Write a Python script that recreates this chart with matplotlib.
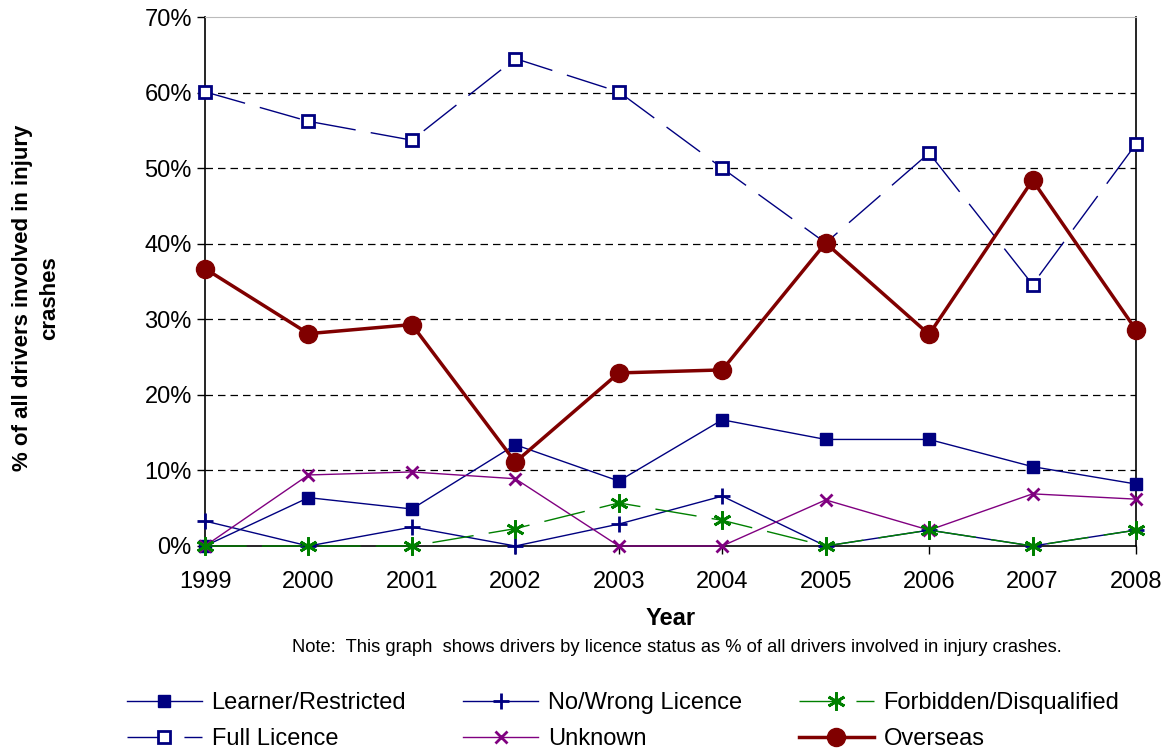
import matplotlib
matplotlib.use("Agg")
import matplotlib.pyplot as plt
from matplotlib.ticker import FuncFormatter

plt.rcParams['font.family'] = ['Liberation Sans', 'DejaVu Sans']

# data (percent)
years = [1999, 2000, 2001, 2002, 2003, 2004, 2005, 2006, 2007, 2008]
learner = [0.0, 6.4, 4.9, 13.4, 8.6, 16.7, 14.1, 14.1, 10.5, 8.2]
no_wrong = [3.3, 0.0, 2.5, 0.0, 2.9, 6.6, 0.0, 2.1, 0.0, 2.1]
forbidden = [0.0, 0.0, 0.0, 2.3, 5.7, 3.4, 0.0, 2.1, 0.0, 2.1]
full = [60.1, 56.2, 53.7, 64.5, 60.1, 50.0, 40.1, 52.0, 34.6, 53.2]
unknown = [0.0, 9.4, 9.8, 8.9, 0.0, 0.0, 6.1, 2.1, 6.9, 6.2]
overseas = [36.7, 28.1, 29.3, 11.1, 22.9, 23.3, 40.1, 28.0, 48.4, 28.6]

navy = "#000080"
purple = "#800080"
green = "#008000"
maroon = "#800000"
dash = (0, (30, 11))

fig = plt.figure(figsize=(11.68, 7.51), dpi=100)
ax = fig.add_axes([205 / 1168, 1 - 546 / 751, (1136 - 205) / 1168, (546 - 17) / 751])

# gridlines
for v in range(10, 70, 10):
    ax.axhline(v, color="black", lw=0.9, ls=(0, (6, 4)), zorder=0)

ax.plot(years, learner, color=navy, lw=1, marker="s", ms=8, mfc=navy, mec=navy,
        label="Learner/Restricted", zorder=3, clip_on=False)
ax.plot(years, full, color=navy, lw=1, ls=dash, marker="s", ms=8, mfc="white", mec=navy, mew=2,
        label="Full Licence", zorder=3, clip_on=False)
ax.plot(years, no_wrong, color=navy, lw=1, marker="+", ms=12, mew=2,
        label="No/Wrong Licence", zorder=3, clip_on=False)
ax.plot(years, unknown, color=purple, lw=1, marker="x", ms=9, mew=2,
        label="Unknown", zorder=3, clip_on=False)
ax.plot(years, forbidden, color=green, lw=1, ls=dash, marker=(6, 2, 0), ms=13, mew=2,
        label="Forbidden/Disqualified", zorder=3, clip_on=False)
ax.plot(years, overseas, color=maroon, lw=2.5, marker="o", ms=13,
        label="Overseas", zorder=4, clip_on=False)

ax.set_xlim(1999, 2008)
ax.set_ylim(0, 70)
ax.set_xticks(years)
ax.set_yticks(range(0, 80, 10))
ax.yaxis.set_major_formatter(FuncFormatter(lambda v, p: f"{v:.0f}%"))
ax.tick_params(axis="both", labelsize=17, direction="out", length=6, width=1)
ax.tick_params(axis="x", pad=12)
for s in ["left", "bottom", "right"]:
    ax.spines[s].set_color("black")
    ax.spines[s].set_linewidth(1.2)
ax.spines["top"].set_color("#bbbbbb")

ax.set_xlabel("Year", fontsize=17, fontweight="bold", labelpad=10)
fig.text(36 / 1168, 1 - 298 / 751, "% of all drivers involved in injury\ncrashes", rotation=90,
         ha="center", va="center", fontsize=16, fontweight="bold", linespacing=1.4)
fig.text(677 / 1168, 1 - 647 / 751,
         "Note:  This graph  shows drivers by licence status as % of all drivers involved in injury crashes.",
         ha="center", va="center", fontsize=13.2)

fig.legend(loc="center", bbox_to_anchor=(623 / 1168, 1 - 721 / 751), ncol=3, frameon=False,
           fontsize=17, handlelength=3.2, columnspacing=2.4, handletextpad=0.4, labelspacing=0.6)

fig.savefig("out.png", dpi=100)
